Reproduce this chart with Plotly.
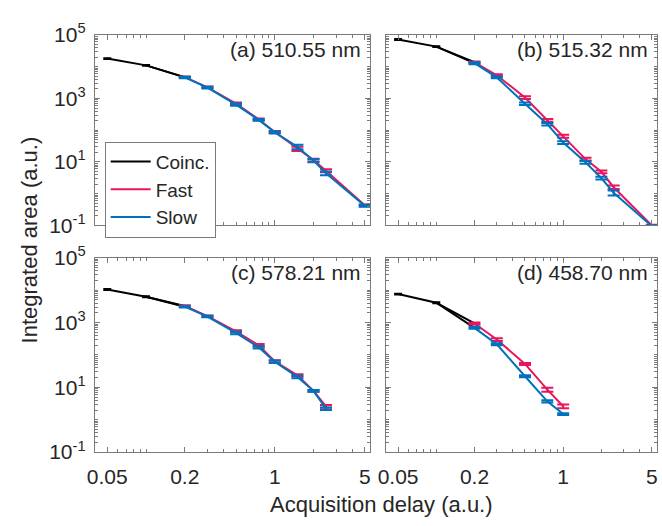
import plotly.graph_objects as go
from plotly.subplots import make_subplots

# acquisition delays (a.u.)
coinc_x = [0.05, 0.1]
fs_x = [0.2, 0.3, 0.5, 0.75, 1, 1.5, 2, 2.5, 5]

panel_labels = ["(a) 510.55 nm", "(b) 515.32 nm", "(c) 578.21 nm", "(d) 458.70 nm"]

# integrated area per panel
coinc_a = [18000, 11000]
fast_a = [4700, 2250, 690, 220, 88, 26, 11.5, 5.3, 0.43]
slow_a = [4600, 2200, 640, 212, 86, 30, 11, 4.4, 0.42]
fast_a_err = [250, 130, 50, 15, 7, 4, 1.2, 0.6, 0.03]
slow_a_err = [250, 130, 50, 15, 7, 5, 1.2, 0.6, 0.03]

coinc_b = [72000, 43000]
fast_b = [13800, 5400, 1070, 205, 65, 12.3, 4.9, 1.6, 0.10]
slow_b = [12900, 4600, 680, 155, 41, 9.8, 3.1, 1.07, 0.095]
fast_b_err = [900, 350, 110, 20, 7, 1.2, 0.5, 0.2, 0.006]
slow_b_err = [900, 300, 60, 15, 4, 1.0, 0.3, 0.2, 0.006]

coinc_c = [10500, 6300]
fast_c = [3250, 1580, 540, 200, 64, 23.5, 7.8, 2.6]
slow_c = [3100, 1540, 480, 173, 62, 21, 7.8, 2.2]
fast_c_err = [180, 90, 40, 20, 5, 2.0, 0.5, 0.25]
slow_c_err = [180, 90, 40, 15, 5, 2.0, 0.5, 0.2]

coinc_d = [7600, 4100]
fast_d = [940, 300, 53, 8.5, 2.6]
slow_d = [690, 215, 22, 3.7, 1.5]
fast_d_err = [70, 30, 4, 1.2, 0.35]
slow_d_err = [50, 15, 1.5, 0.3, 0.1]

panels = [
    (1, 1, coinc_a, fast_a, slow_a, fast_a_err, slow_a_err),
    (1, 2, coinc_b, fast_b, slow_b, fast_b_err, slow_b_err),
    (2, 1, coinc_c, fast_c, slow_c, fast_c_err, slow_c_err),
    (2, 2, coinc_d, fast_d, slow_d, fast_d_err, slow_d_err),
]

BLACK = "#000000"
RED = "#E8175D"
BLUE = "#0072BD"
AXIS = "#7a7a7a"
TEXT = "#262626"

W, H = 662, 526


def px(x):
    return x / W


def py(y):
    return 1 - y / H


y_ticks = [0.1, 10, 1000, 100000]
y_ticktext = ["10<sup>-1</sup>", "10<sup>1</sup>", "10<sup>3</sup>", "10<sup>5</sup>"]
x_ticks = [0.05, 0.2, 1, 5]
x_ticktext = ["0.05", "0.2", "1", "5"]

y_minor = [m * 10 ** e for e in range(-1, 5) for m in range(1, 10) if m * 10 ** e not in y_ticks]
x_minor = [m * 10 ** e for e in (-2, -1, 0) for m in range(1, 10)
           if 0.04 <= m * 10 ** e <= 5.5 and m * 10 ** e not in x_ticks]

fig = make_subplots(rows=2, cols=2)

for i, (r, c, coinc, fast, slow, fe, se) in enumerate(panels):
    n = len(fast)
    xs = fs_x[:n]
    first = i == 0
    # coincidence part, joined to both the fast and the slow first point
    fig.add_trace(go.Scatter(
        x=coinc_x + [xs[0]], y=coinc + [fast[0]], mode="lines", name="Coinc.",
        line=dict(color=BLACK, width=2),
        error_y=dict(type="data", array=[v * 0.05 for v in coinc] + [0], color=BLACK,
                     thickness=1.5, width=4),
        showlegend=first, legendgroup="c"), row=r, col=c)
    fig.add_trace(go.Scatter(
        x=coinc_x[-1:] + [xs[0]], y=coinc[-1:] + [slow[0]], mode="lines",
        line=dict(color=BLACK, width=2), showlegend=False, legendgroup="c",
        hoverinfo="skip"), row=r, col=c)
    fig.add_trace(go.Scatter(
        x=xs, y=fast, mode="lines", name="Fast",
        line=dict(color=RED, width=2),
        error_y=dict(type="data", array=fe, color=RED, thickness=2, width=6),
        showlegend=first, legendgroup="f"), row=r, col=c)
    fig.add_trace(go.Scatter(
        x=xs, y=slow, mode="lines", name="Slow",
        line=dict(color=BLUE, width=2),
        error_y=dict(type="data", array=se, color=BLUE, thickness=2, width=6),
        showlegend=first, legendgroup="s"), row=r, col=c)

x_domains = {1: [px(88), px(367)], 2: [px(383), px(658)]}
y_domains = {1: [py(222), py(22)], 2: [py(460), py(256)]}

for r in (1, 2):
    for c in (1, 2):
        fig.update_xaxes(
            type="log", range=[-1.398, 0.740], domain=x_domains[c],
            tickvals=x_ticks, ticktext=x_ticktext, showticklabels=(r == 2),
            ticks="inside", ticklen=5, tickcolor=AXIS, ticklabelstandoff=6,
            minor=dict(tickvals=x_minor, ticks="inside", ticklen=3, tickcolor=AXIS),
            showline=True, linecolor=AXIS, linewidth=1, mirror="ticks",
            showgrid=False, zeroline=False,
            tickfont=dict(size=21, color=TEXT), row=r, col=c)
        fig.update_yaxes(
            type="log", range=[-1, 5], domain=y_domains[r],
            tickvals=y_ticks, ticktext=y_ticktext, showticklabels=(c == 1),
            ticks="inside", ticklen=5, tickcolor=AXIS, ticklabelstandoff=4,
            minor=dict(tickvals=y_minor, ticks="inside", ticklen=3, tickcolor=AXIS),
            showline=True, linecolor=AXIS, linewidth=1, mirror="ticks",
            showgrid=False, zeroline=False,
            tickfont=dict(size=21, color=TEXT), row=r, col=c)

axis_names = ["x", "x2", "x3", "x4"]
y_names = ["y", "y2", "y3", "y4"]
for k, label in enumerate(panel_labels):
    fig.add_annotation(
        text=label, xref=axis_names[k] + " domain", yref=y_names[k] + " domain",
        x=0.975, y=0.995, xanchor="right", yanchor="top", showarrow=False,
        font=dict(size=21, color=TEXT))

fig.add_annotation(
    text="Acquisition delay (a.u.)", xref="paper", yref="paper",
    x=px(379), y=py(515), xanchor="center", yanchor="middle",
    showarrow=False, font=dict(size=22, color=TEXT))
fig.add_annotation(
    text="Integrated area (a.u.)", xref="paper", yref="paper",
    x=px(22), y=py(237), xanchor="center", yanchor="middle", textangle=-90,
    showarrow=False, font=dict(size=22, color=TEXT))

fig.update_layout(
    width=W, height=H,
    margin=dict(l=0, r=0, t=0, b=0),
    paper_bgcolor="white", plot_bgcolor="white",
    font=dict(family="Liberation Sans, Arial, sans-serif", color=TEXT),
    legend=dict(
        x=px(98), y=py(134), xanchor="left", yanchor="top",
        bgcolor="white", bordercolor=AXIS, borderwidth=1,
        font=dict(size=19, color=TEXT), tracegroupgap=0, itemwidth=40),
)

# drop the page's default body margin so the figure sits at the top-left corner
fig.write_html("out.html", config={"displayModeBar": False},
               post_script="document.body.style.margin='0';"
                           "document.body.style.overflow='hidden';")
